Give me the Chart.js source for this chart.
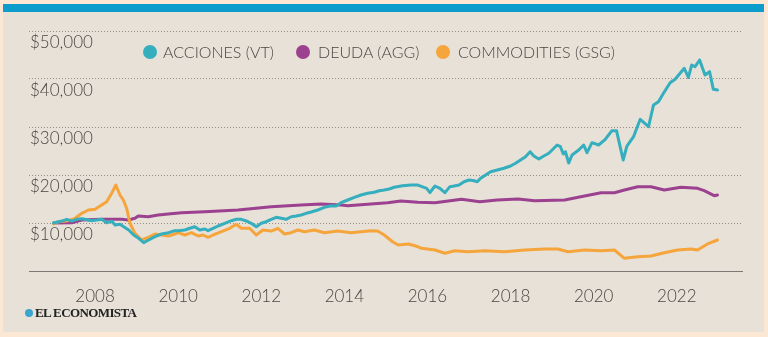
<!DOCTYPE html>
<html>
<head>
<meta charset="utf-8">
<script src="https://cdn.jsdelivr.net/npm/chart.js@4"></script>
<style>
  html, body { margin: 0; padding: 0; }
  body { width: 768px; height: 337px; background: #fbe7d3; position: relative; overflow: hidden; font-family: Lato, 'Noto Sans', sans-serif; }
  #panel { position: absolute; left: 3px; top: 4px; width: 761px; height: 328px; background: #e7e1d8; }
  #bar { position: absolute; left: 3px; top: 4px; width: 761px; height: 8px; background: #0c9dcc; }
  #wrap { position: absolute; left: 0; top: 0; width: 768px; height: 337px; }
  .leg { position: absolute; top: 42px; font-size: 16px; font-weight: 300; color: #4a4642; white-space: nowrap; line-height: 20px; }
  .dot { position: absolute; width: 14px; height: 14px; border-radius: 50%; top: 45px; }
  #logo { position: absolute; left: 25px; top: 305px; font-family: 'Liberation Serif', serif; font-weight: bold; font-size: 13px; color: #222; letter-spacing: -0.6px; }
  #logo i { display: inline-block; width: 8px; height: 8px; border-radius: 50%; background: #3aa5cf; margin-right: 2px; }
</style>
</head>
<body>
<div id="panel"></div>
<div id="bar"></div>
<div id="wrap"><canvas id="c" width="768" height="337"></canvas></div>
<div class="dot" style="left:143px;background:#35aebd"></div>
<div class="leg" style="left:163px">ACCIONES (VT)</div>
<div class="dot" style="left:296px;background:#9b4190"></div>
<div class="leg" style="left:318px">DEUDA (AGG)</div>
<div class="dot" style="left:436px;background:#f5a53c"></div>
<div class="leg" style="left:458px">COMMODITIES (GSG)</div>
<div id="logo"><i></i>EL ECONOMISTA</div>
<script>
// ── DATA ────────────────────────────────────────────────────
const vtYears = [2007.00, 2007.20, 2007.32, 2007.44, 2007.56, 2007.68, 2007.92, 2008.16, 2008.28, 2008.40,
  2008.48, 2008.60, 2008.69, 2008.81, 2008.93, 2009.05, 2009.17, 2009.29, 2009.44, 2009.60,
  2009.77, 2009.92, 2010.00, 2010.16, 2010.28, 2010.40, 2010.52, 2010.64, 2010.72, 2010.84,
  2010.96, 2011.12, 2011.28, 2011.40, 2011.52, 2011.64, 2011.76, 2011.88, 2012.00, 2012.12,
  2012.24, 2012.36, 2012.48, 2012.60, 2012.72, 2012.84, 2012.96, 2013.08, 2013.20, 2013.36,
  2013.52, 2013.68, 2013.80, 2013.92, 2014.08, 2014.24, 2014.40, 2014.56, 2014.72, 2014.84,
  2014.96, 2015.08, 2015.20, 2015.40, 2015.60, 2015.77, 2015.98, 2016.06, 2016.18, 2016.30,
  2016.42, 2016.54, 2016.64, 2016.76, 2016.88, 2017.00, 2017.12, 2017.20, 2017.28, 2017.40,
  2017.52, 2017.68, 2017.84, 2018.00, 2018.12, 2018.24, 2018.36, 2018.47, 2018.56, 2018.68,
  2018.80, 2018.92, 2019.00, 2019.12, 2019.20, 2019.27, 2019.32, 2019.40, 2019.48, 2019.64,
  2019.76, 2019.84, 2019.96, 2020.12, 2020.28, 2020.44, 2020.55, 2020.71, 2020.80, 2020.96,
  2021.12, 2021.32, 2021.44, 2021.56, 2021.68, 2021.84, 2021.96, 2022.18, 2022.28, 2022.36,
  2022.44, 2022.55, 2022.68, 2022.79, 2022.88, 2022.98];
const vtValues = [10000, 10400, 10770, 10400, 10770, 10900, 10480, 10770, 10060, 10400,
  9580, 9730, 9230, 8540, 7500, 6810, 5900, 6460, 7150, 7710,
  7980, 8400, 8400, 8540, 8900, 9230, 8540, 8750, 8400, 8900,
  9375, 9940, 10480, 10770, 10770, 10420, 9940, 9230, 9940, 10270,
  10770, 11190, 10980, 10770, 11310, 11460, 11670, 12020, 12290, 12710,
  13270, 13600, 13540, 14230, 14790, 15350, 15830, 16190, 16400, 16730,
  16870, 17080, 17440, 17770, 17920, 17900, 17230, 16320, 17710, 17230,
  16320, 17570, 17710, 17920, 18600, 18960, 18810, 18600, 19310, 20000,
  20690, 21040, 21400, 21870, 22440, 23120, 23810, 24850, 23960, 23330,
  23960, 24520, 25210, 26250, 25900, 24370, 24850, 22500, 24170, 25210,
  26250, 24650, 26730, 26250, 27440, 29230, 29230, 23120, 26040, 27980,
  31600, 30060, 34580, 35270, 37020, 39230, 39940, 42230, 40350, 42920,
  42560, 43960, 40830, 41520, 37850, 37710];

const aggYears = [2007.00, 2007.44, 2007.68, 2008.16, 2008.64, 2008.80, 2008.96, 2009.04, 2009.28, 2009.52,
  2009.76, 2010.08, 2010.64, 2011.44, 2012.24, 2012.96, 2013.44, 2013.92, 2014.08, 2014.56,
  2015.04, 2015.36, 2015.77, 2016.18, 2016.82, 2017.26, 2017.68, 2018.18, 2018.58, 2019.30,
  2019.78, 2020.18, 2020.50, 2020.74, 2021.06, 2021.38, 2021.70, 2022.10, 2022.50, 2022.66,
  2022.90, 2022.98];
const aggValues = [10000, 10060, 10620, 10770, 10770, 10620, 10980, 11460, 11310, 11670,
  11870, 12150, 12350, 12710, 13400, 13750, 13960, 13750, 13600, 13900,
  14230, 14580, 14310, 14230, 14940, 14440, 14790, 15000, 14650, 14790,
  15630, 16310, 16310, 16870, 17560, 17560, 16870, 17440, 17230, 16730,
  15690, 15830];

const gsgYears = [2007.00, 2007.12, 2007.36, 2007.52, 2007.68, 2007.84, 2008.00, 2008.16, 2008.28, 2008.40,
  2008.50, 2008.60, 2008.68, 2008.76, 2008.84, 2008.96, 2009.12, 2009.28, 2009.44, 2009.60,
  2009.76, 2009.92, 2010.00, 2010.16, 2010.32, 2010.48, 2010.60, 2010.72, 2010.84, 2011.04,
  2011.24, 2011.40, 2011.52, 2011.72, 2011.88, 2012.04, 2012.24, 2012.40, 2012.56, 2012.72,
  2012.88, 2013.04, 2013.28, 2013.52, 2013.84, 2014.16, 2014.40, 2014.64, 2014.80, 2014.96,
  2015.16, 2015.30, 2015.54, 2015.72, 2015.86, 2016.18, 2016.42, 2016.66, 2016.98, 2017.38,
  2017.86, 2018.34, 2018.82, 2019.14, 2019.38, 2019.78, 2020.18, 2020.50, 2020.74, 2021.06,
  2021.38, 2021.70, 2022.02, 2022.34, 2022.50, 2022.74, 2022.98];
const gsgValues = [9800, 10270, 10480, 10980, 12020, 12710, 12850, 13750, 14440, 16190,
  17920, 15830, 14790, 13060, 9940, 7850, 6460, 7020, 7710, 7500,
  7290, 7710, 7980, 7500, 7980, 7290, 7500, 7020, 7500, 8190,
  8900, 9730, 8900, 8900, 7500, 8540, 8330, 8900, 7710, 7980,
  8540, 8190, 8540, 7980, 8330, 7980, 8190, 8400, 8330, 7500,
  6100, 5420, 5630, 5210, 4730, 4380, 3690, 4230, 4020, 4230,
  4020, 4380, 4580, 4580, 4020, 4380, 4230, 4380, 2650, 2980,
  3130, 3810, 4380, 4580, 4380, 5630, 6460];

const yearTicks = [2008, 2010, 2012, 2014, 2016, 2018, 2020, 2022];

const toPoints = (xs, ys) => xs.map((x, i) => ({ x, y: ys[i] }));

const lineStyle = { borderWidth: 3, pointRadius: 0, tension: 0, borderJoinStyle: 'round', borderCapStyle: 'round', fill: false };
const labelFont = { family: 'Lato', size: 17, weight: '300' };

new Chart(document.getElementById('c').getContext('2d'), {
  type: 'line',
  data: {
    datasets: [
      { ...lineStyle, label: 'ACCIONES (VT)', data: toPoints(vtYears, vtValues), borderColor: '#35aebd', order: 1 },
      { ...lineStyle, label: 'COMMODITIES (GSG)', data: toPoints(gsgYears, gsgValues), borderColor: '#f5a53c', order: 2 },
      { ...lineStyle, label: 'DEUDA (AGG)', data: toPoints(aggYears, aggValues), borderColor: '#9b4190', order: 3 },
    ],
  },
  options: {
    responsive: false,
    animation: false,
    layout: { padding: { left: 27, right: 26, top: 31, bottom: 26 } },
    plugins: { legend: { display: false }, tooltip: { enabled: false } },
    scales: {
      x: {
        type: 'linear', min: 2006.41, max: 2023.57,
        afterBuildTicks: s => { s.ticks = yearTicks.map(v => ({ value: v })); },
        afterFit: s => { s.height = 40; },
        grid: { display: false },
        border: { display: true, color: '#7d7873', width: 1 },
        ticks: { color: '#4a4642', font: labelFont, padding: 7, maxRotation: 0, callback: v => String(v) },
      },
      y: {
        min: 0, max: 50000,
        ticks: {
          stepSize: 10000, mirror: true, padding: 1, labelOffset: 12,
          color: '#4a4642', font: labelFont,
          callback: v => v === 0 ? '' : '$' + v.toLocaleString('en-US'),
        },
        grid: { color: ctx => ctx.tick && ctx.tick.value === 0 ? 'rgba(0,0,0,0)' : '#948e87', lineWidth: 1, drawTicks: false },
        border: { display: false, dash: [1, 2] },
      },
    },
  },
});
</script>
</body>
</html>
